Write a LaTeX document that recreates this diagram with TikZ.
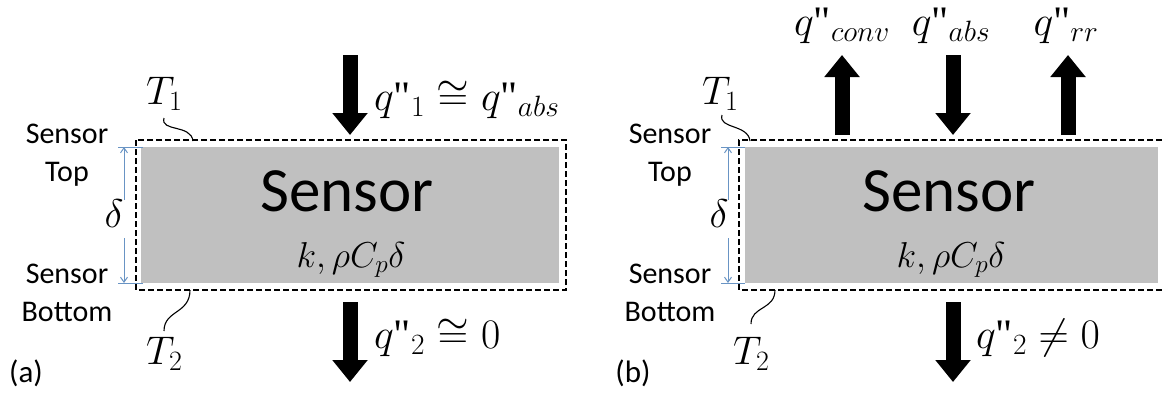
\RequirePackage{fix-cm}
\documentclass[tikz,border=0pt]{standalone}
\usepackage{fontspec}
\setmainfont{Carlito}
\newfontfamily\quotefont{Liberation Serif}
\newcommand{\dq}{\mbox{\quotefont"}}
\usetikzlibrary{arrows.meta}
\definecolor{sgray}{RGB}{192,192,192}
\definecolor{dimblue}{RGB}{105,148,196}
\begin{document}
\begin{tikzpicture}[x=1pt,y=-1pt,
  sensorbody/.style={fill=sgray, draw=none, inner sep=0pt},
  dashbox/.style={draw=black, line width=2pt, dash pattern=on 6pt off 3pt},
  flux/.style={line width=15pt, -{Triangle[width=34pt,length=22pt]}},
  bigword/.style={font=\fontsize{63}{70}\selectfont, inner sep=0pt},
  sidelabel/.style={font=\fontsize{30}{38}\selectfont, align=center, inner sep=0pt},
  fluxlabel/.style={font=\fontsize{42}{48}\selectfont, inner sep=0pt},
  mlabel/.style={font=\fontsize{40}{46}\selectfont, inner sep=0pt},
  proplabel/.style={font=\fontsize{36}{42}\selectfont, inner sep=0pt},
  leader/.style={draw=black, line width=1.1pt},
  dimline/.style={draw=dimblue, line width=1pt},
  dimarrow/.style={draw=dimblue, line width=1pt, -{Straight Barb[length=5pt,width=7pt]}},
  panel/.style={font=\fontsize{31}{36}\selectfont, inner sep=0pt}]
\fill[white] (0,0) rectangle (1162,399);
\useasboundingbox (0,0) rectangle (1162,399);

% ---------------- Panel (a) ----------------
\node[sensorbody, minimum width=418pt, minimum height=136pt] (bodyA) at (350,215) {};
\draw[dashbox] (136,140) rectangle (566,290);
\node[bigword, anchor=base] (wordA) at (347,211) {Sensor};
\node[proplabel, anchor=base] (propA) at (351,267) {$k,\rho C_p\delta$};

\coordinate (inAs) at (350,55);
\coordinate (inAe) at (350,135);
\draw[flux] (inAs) -- (inAe);
\node[fluxlabel, anchor=base west] (qoneA) at (374,110) {$q\dq_1 \cong q\dq_{abs}$};

\coordinate (outAs) at (350,302);
\coordinate (outAe) at (350,382);
\draw[flux] (outAs) -- (outAe);
\node[fluxlabel, anchor=base west] (qtwoA) at (374,348) {$q\dq_2 \cong 0$};

\node[mlabel, anchor=base west] (TA1) at (146,104) {$T_1$};
\coordinate (TA1end) at (193,141);
\draw[leader] (164,118) .. controls (160,132) and (191,124) .. (TA1end);
\node[mlabel, anchor=base west] (TA2) at (146,364) {$T_2$};
\coordinate (TA2end) at (190,290);
\draw[leader] (164,331) .. controls (164,310) and (190,314) .. (TA2end);

\node[sidelabel, anchor=base] (topA) at (67,181) {Sensor\\Top};
\node[sidelabel, anchor=base] (botA) at (67,321) {Sensor\\Bottom};
\node[mlabel, anchor=center] (deltaA) at (114,214) {$\delta$};
\coordinate (dAtop) at (124,147);
\coordinate (dAbot) at (124,283);
\draw[dimarrow] (124,200) -- (dAtop);
\draw[dimarrow] (124,238) -- (dAbot);
\draw[dimline] (118,147) -- (143,147);
\draw[dimline] (118,283) -- (143,283);
\node[panel] (labA) at (26,373) {(a)};

% ---------------- Panel (b) ----------------
\node[sensorbody, minimum width=413pt, minimum height=136pt] (bodyB) at (951.5,215) {};
\draw[dashbox] (1162,140) -- (739,140) -- (739,290) -- (1162,290);
\node[bigword, anchor=base] (wordB) at (949,211) {Sensor};
\node[proplabel, anchor=base] (propB) at (951,267) {$k,\rho C_p\delta$};

\coordinate (convs) at (842,135);
\coordinate (conve) at (842,55);
\draw[flux] (convs) -- (conve);
\node[fluxlabel, anchor=base] (qconv) at (842,35) {$q\dq_{conv}$};

\coordinate (abss) at (953,55);
\coordinate (abse) at (953,135);
\draw[flux] (abss) -- (abse);
\node[fluxlabel, anchor=base] (qabs) at (951,35) {$q\dq_{abs}$};

\coordinate (rrs) at (1068,135);
\coordinate (rre) at (1068,55);
\draw[flux] (rrs) -- (rre);
\node[fluxlabel, anchor=base] (qrr) at (1066,35) {$q\dq_{rr}$};

\coordinate (outBs) at (953,302);
\coordinate (outBe) at (953,382);
\draw[flux] (outBs) -- (outBe);
\node[fluxlabel, anchor=base west] (qtwoB) at (976,348) {$q\dq_2 \neq 0$};

\node[mlabel, anchor=base west] (TB1) at (702,104) {$T_1$};
\coordinate (TB1end) at (750,141);
\draw[leader] (722,115) .. controls (718,129) and (748,124) .. (TB1end);
\node[mlabel, anchor=base west] (TB2) at (733,364) {$T_2$};
\coordinate (TB2end) at (775,290);
\draw[leader] (751,324) .. controls (751,306) and (775,310) .. (TB2end);

\node[sidelabel, anchor=base] (topB) at (670,181) {Sensor\\Top};
\node[sidelabel, anchor=base] (botB) at (670,321) {Sensor\\Bottom};
\node[mlabel, anchor=center] (deltaB) at (719,214) {$\delta$};
\coordinate (dBtop) at (728,147);
\coordinate (dBbot) at (728,283);
\draw[dimarrow] (728,200) -- (dBtop);
\draw[dimarrow] (728,238) -- (dBbot);
\draw[dimline] (721,147) -- (745,147);
\draw[dimline] (721,283) -- (745,283);
\node[panel] (labB) at (633,373) {(b)};
\end{tikzpicture}
\end{document}
